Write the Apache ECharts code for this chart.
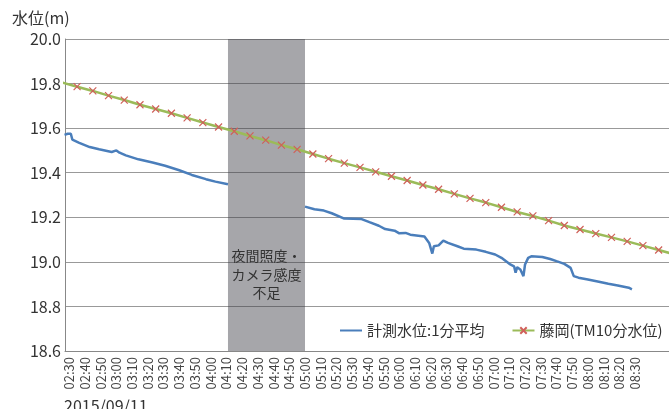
<!DOCTYPE html>
<html>
<head>
<meta charset="utf-8">
<script src="https://cdn.jsdelivr.net/npm/echarts@6/dist/echarts.min.js"></script>
<style>
html,body{margin:0;padding:0;background:#fff;}
#chart{width:669px;height:409px;}
</style>
</head>
<body>
<div id="chart"></div>
<script>
// Tick labels (x axis, time of day)
var tickLabels = ['02:30','02:40','02:50','03:00','03:10','03:20','03:30','03:40','03:50',
  '04:00','04:10','04:20','04:30','04:40','04:50','05:00','05:10','05:20','05:30','05:40','05:50',
  '06:00','06:10','06:20','06:30','06:40','06:50','07:00','07:10','07:20','07:30','07:40','07:50',
  '08:00','08:10','08:20','08:30'];
var yTicks = [18.6, 18.8, 19.0, 19.2, 19.4, 19.6, 19.8, 20.0];

// 計測水位:1分平均 (times in minutes after 00:00, values in m); null = no data
var blueTimes = [147,148,149,150,151,152,156,163,169,177,180,182,186,194,203,211,220,228,237,243,251,
  275,
  300,306,312,317,325,336,341,347,351,357,360,364,365,367,376,379,381,382,385,388,391,397,401,409,415,
  421,425,430,433,434,435,437,439,440,442,444,451,456,460,465,469,471,474,480,487,493,499,506,508];
var blueValues = [19.570,19.565,19.575,19.570,19.575,19.548,19.535,19.515,19.505,19.493,19.500,19.490,
  19.478,19.460,19.446,19.431,19.411,19.390,19.371,19.360,19.348,
  null,
  19.248,19.236,19.230,19.218,19.194,19.192,19.178,19.162,19.147,19.140,19.128,19.130,19.137,19.122,
  19.114,19.085,19.037,19.070,19.074,19.095,19.085,19.070,19.059,19.055,19.045,19.033,19.018,18.991,
  18.980,18.951,18.976,18.966,18.936,18.988,19.018,19.025,19.022,19.013,19.003,18.991,18.973,18.936,
  18.929,18.921,18.911,18.902,18.894,18.884,18.877];

// 藤岡(TM10分水位)
var greenTimes = [145,155,165,175,185,195,205,215,225,235,245,255,265,275,285,295,305,315,325,335,
  345,355,365,375,385,395,405,415,425,435,445,455,465,475,485,495,505,515,525,535];
var greenValues = [19.806,19.786,19.767,19.746,19.726,19.705,19.686,19.667,19.646,19.625,19.605,
  19.586,19.565,19.546,19.524,19.505,19.484,19.463,19.443,19.424,19.404,19.384,19.365,19.345,19.326,
  19.305,19.285,19.266,19.245,19.224,19.206,19.185,19.163,19.145,19.127,19.110,19.092,19.073,19.053,19.034];

// Period without data (夜間照度・カメラ感度不足)
var gapStart = '04:11', gapEnd = '05:00';

function toMin(s){ var p = s.split(':'); return (+p[0])*60 + (+p[1]); }
function pad(n){ return (n < 10 ? '0' : '') + n; }
function toLabel(m){ m = Math.round(m); return pad(Math.floor(m/60)) + ':' + pad(m % 60); }

var blueData = blueTimes.map(function(t,i){ return [t, blueValues[i]]; });
var greenData = greenTimes.map(function(t,i){
  var edge = (i === 0 || i === greenTimes.length - 1);
  return edge ? {value:[t, greenValues[i]], symbol:'none'} : [t, greenValues[i]];
});

var FONT = '"Noto Sans CJK JP", "Noto Sans", sans-serif';
var chart = echarts.init(document.getElementById('chart'), null, {renderer:'canvas'});
chart.setOption({
  animation: false,
  backgroundColor: '#ffffff',
  textStyle: {fontFamily: FONT},
  title: [
    {text: '水位(m)', left: 7, top: 5, textStyle: {fontFamily: FONT, fontSize: 16, fontWeight: 'normal', color: '#333'}},
    {text: '2015/09/11', left: 59, top: 393, textStyle: {fontFamily: FONT, fontSize: 16, fontWeight: 'normal', color: '#333'}}
  ],
  grid: {left: 65, right: 0, top: 39, bottom: 58, containLabel: false},
  legend: {
    left: 334, top: 318,
    itemWidth: 22, itemHeight: 8, itemGap: 27,
    textStyle: {fontFamily: FONT, fontSize: 15, color: '#333'},
    data: [
      {name: '計測水位:1分平均', itemStyle: {color: 'rgba(0,0,0,0)', borderColor: 'rgba(0,0,0,0)', borderWidth: 0}},
      {name: '藤岡(TM10分水位)'}
    ]
  },
  xAxis: {
    type: 'value',
    min: 147.3, max: 531.6,
    axisLine: {show: true, lineStyle: {color: '#888', width: 1}},
    axisTick: {show: false},
    splitLine: {show: false},
    axisLabel: {
      customValues: tickLabels.map(toMin),
      rotate: 90,
      margin: 6,
      fontFamily: FONT, fontSize: 13, color: '#444',
      formatter: function(v){ return toLabel(v); }
    }
  },
  yAxis: {
    type: 'value',
    min: yTicks[0], max: yTicks[yTicks.length-1], interval: 0.2,
    axisLine: {show: true, lineStyle: {color: '#888', width: 1}},
    axisTick: {show: false},
    splitLine: {show: true, lineStyle: {color: '#999', width: 1}},
    axisLabel: {
      margin: 4, fontFamily: FONT, fontSize: 16, color: '#333',
      formatter: function(v){ return v.toFixed(1); }
    }
  },
  series: [
    {
      name: '計測水位:1分平均',
      type: 'line',
      data: blueData,
      showSymbol: false, symbol: 'none',
      connectNulls: false,
      lineStyle: {color: '#4a7ebb', width: 2.5},
      itemStyle: {color: '#4a7ebb'},
      z: 3,
      markArea: {
        silent: true,
        itemStyle: {color: 'rgba(60,60,69,0.456)'},
        label: {
          show: true, position: 'insideBottom', distance: 49,
          formatter: '夜間照度・\nカメラ感度\n不足',
          fontFamily: FONT, fontSize: 14, lineHeight: 18.5, color: '#333', align: 'center'
        },
        data: [[{xAxis: toMin(gapStart)}, {xAxis: toMin(gapEnd)}]]
      }
    },
    {
      name: '藤岡(TM10分水位)',
      type: 'line',
      data: greenData,
      symbol: 'path://M0,0L10,10M10,0L0,10',
      symbolSize: 7,
      showAllSymbol: true,
      lineStyle: {color: '#9bbb59', width: 2.5},
      itemStyle: {color: 'rgba(0,0,0,0)', borderColor: '#d0605a', borderWidth: 1.2},
      z: 4
    }
  ]
});
</script>
</body>
</html>
